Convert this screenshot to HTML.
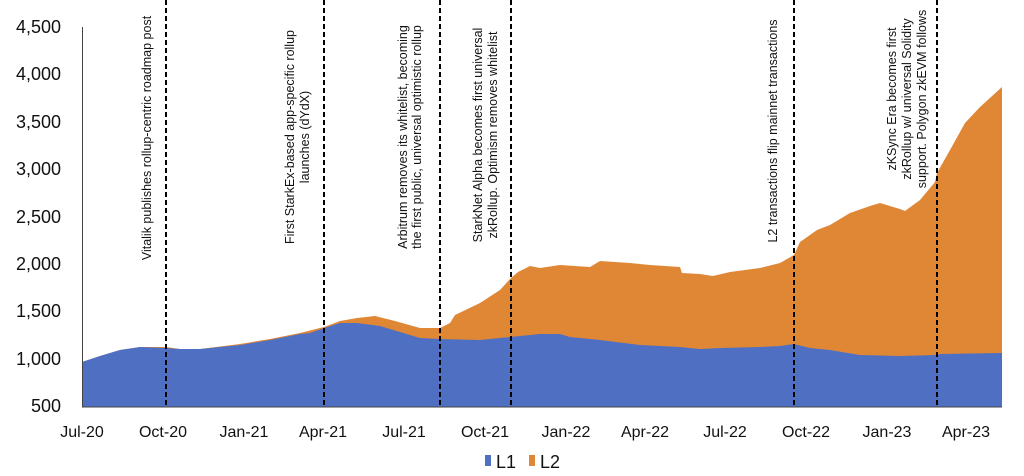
<!DOCTYPE html>
<html><head><meta charset="utf-8"><style>
html,body{margin:0;padding:0;background:#fff;}
svg{display:block;font-family:"Liberation Sans",Arial,sans-serif;}
</style></head><body>
<svg width="1024" height="476" viewBox="0 0 1024 476" xmlns="http://www.w3.org/2000/svg">
<polygon fill="#E08736" points="82,362 100,356 120,350 140,347 166,347 180,349 200,349 240,344 270,339 300,333 324,327 340,321 357,318 375,316 395,321 420,328 440,328 450,323 455,315 480,303 500,290 511,278 518,272 530,266 540,268 560,265 590,267 600,261 630,263 650,265 680,267 682,273 700,274 713,276 730,272 760,268 780,263 794,255 800,242 817,230 830,225 850,213 870,206 880,203 900,209 905,211 920,200 935,182 937,173 950,150 965,123 980,107 1002,87 1002,407 82,407"/>
<polygon fill="#4F70C2" points="82,362 100,356 120,350 140,347 166,348 180,349 200,349 240,345 270,340 300,334 310,333 324,328 340,323 357,323 380,326 400,332 420,338 440,339 480,340 500,338 520,336 540,334 560,334 570,337 600,340 640,345 680,347 700,349 720,348 760,347 780,346 794,344 810,348 830,350 860,355 900,356 937,355 940,354 1002,353 1002,407 82,407"/>
<line x1="82.5" y1="27" x2="82.5" y2="407" stroke="#444" stroke-width="1"/>
<line x1="82" y1="407" x2="1002" y2="407" stroke="#444" stroke-width="1"/>
<g stroke="#000" stroke-width="2" stroke-dasharray="5,3">
<line x1="166" y1="0" x2="166" y2="407"/>
<line x1="324" y1="0" x2="324" y2="407"/>
<line x1="440" y1="0" x2="440" y2="407"/>
<line x1="511" y1="0" x2="511" y2="407"/>
<line x1="794" y1="0" x2="794" y2="407"/>
<line x1="937" y1="0" x2="937" y2="407"/>
</g>
<g font-size="18" fill="#111" text-anchor="end">
<text x="61" y="33">4,500</text>
<text x="61" y="80">4,000</text>
<text x="61" y="128">3,500</text>
<text x="61" y="175">3,000</text>
<text x="61" y="223">2,500</text>
<text x="61" y="270">2,000</text>
<text x="61" y="317">1,500</text>
<text x="61" y="365">1,000</text>
<text x="61" y="412">500</text>
</g>
<g font-size="16" fill="#111" text-anchor="middle">
<text x="82" y="437">Jul-20</text>
<text x="163" y="437">Oct-20</text>
<text x="244" y="437">Jan-21</text>
<text x="323" y="437">Apr-21</text>
<text x="404" y="437">Jul-21</text>
<text x="485" y="437">Oct-21</text>
<text x="566" y="437">Jan-22</text>
<text x="645" y="437">Apr-22</text>
<text x="725" y="437">Jul-22</text>
<text x="806" y="437">Oct-22</text>
<text x="887" y="437">Jan-23</text>
<text x="966" y="437">Apr-23</text>
</g>
<rect x="485" y="455" width="6" height="11" fill="#4F70C2"/>
<text x="496" y="468" font-size="18" fill="#111">L1</text>
<rect x="529" y="455" width="6" height="11" fill="#E08736"/>
<text x="540" y="468" font-size="18" fill="#111">L2</text>
<g font-size="12.5" fill="#111" text-anchor="middle">
<text transform="translate(151,138) rotate(-90)">Vitalik publishes rollup-centric roadmap post</text>
<text transform="translate(294,137) rotate(-90)">First StarkEx-based app-specific rollup</text>
<text transform="translate(309,137) rotate(-90)">launches (dYdX)</text>
<text transform="translate(407,137) rotate(-90)">Arbitrum removes its whitelist, becoming</text>
<text transform="translate(421,137) rotate(-90)">the first public, universal optimistic rollup</text>
<text transform="translate(482,135) rotate(-90)">StarkNet Alpha becomes first universal</text>
<text transform="translate(497,135) rotate(-90)">zkRollup. Optimism removes whitelist</text>
<text transform="translate(777,131) rotate(-90)">L2 transactions flip mainnet transactions</text>
<text transform="translate(896,99) rotate(-90)">zKSync Era becomes first</text>
<text transform="translate(911,99) rotate(-90)">zkRollup w/ universal Solidity</text>
<text transform="translate(926,99) rotate(-90)">support. Polygon zkEVM follows</text>
</g>
</svg>
</body></html>
